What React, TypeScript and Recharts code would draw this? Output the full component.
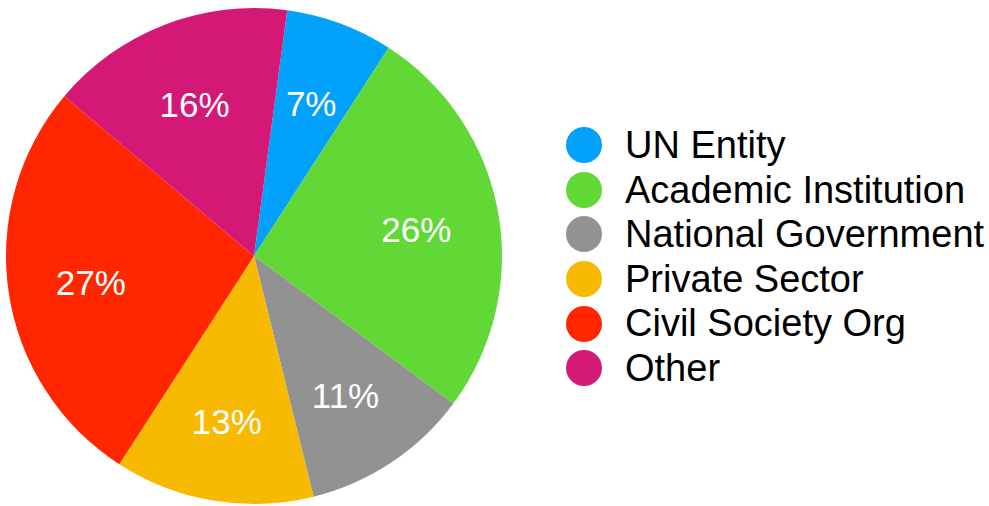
import { Cell, Legend, Pie, PieChart } from "recharts";

const categories = [
  "UN Entity",
  "Academic Institution",
  "National Government",
  "Private Sector",
  "Civil Society Org",
  "Other",
];
const shares = [7, 26, 11, 13, 27, 16];
const colors = ["#02a2fc", "#61d836", "#929292", "#f8ba00", "#ff2600", "#d31876"];

const data = categories.map((name, i) => ({ name, value: shares[i] }));

const RAD = Math.PI / 180;

function renderLabel(props: any) {
  const { cx, cy, midAngle, outerRadius, value } = props;
  const r = outerRadius * 0.665;
  const x = cx + r * Math.cos(-midAngle * RAD);
  const y = cy + r * Math.sin(-midAngle * RAD) + 2.5;
  return (
    <text
      x={x}
      y={y}
      fill="#fff"
      textAnchor="middle"
      dominantBaseline="central"
      fontSize={35}
      fontFamily="'Liberation Sans', Arial, sans-serif"
    >
      {`${value}%`}
    </text>
  );
}

function LegendList() {
  return (
    <div style={{ fontFamily: "'Liberation Sans', Arial, sans-serif" }}>
      {categories.map((name, i) => (
        <div
          key={name}
          style={{ display: "flex", alignItems: "center", height: 44.6 }}
        >
          <span
            style={{
              width: 36,
              height: 36,
              borderRadius: "50%",
              background: colors[i],
              marginRight: 23,
              flexShrink: 0,
            }}
          />
          <span style={{ fontSize: 38, color: "#000", lineHeight: "44.6px", whiteSpace: "nowrap" }}>
            {name}
          </span>
        </div>
      ))}
    </div>
  );
}

export default function App() {
  const start = 82.3;
  return (
    <div style={{ position: "absolute", left: 0, top: 0, background: "#fff" }}>
      <PieChart width={989} height={506} margin={{ top: 0, right: 0, bottom: 0, left: 0 }}>
        <Pie
          data={data}
          dataKey="value"
          nameKey="name"
          cx={254}
          cy={256}
          outerRadius={248}
          startAngle={start}
          endAngle={start - 360}
          stroke="none"
          label={renderLabel}
          labelLine={false}
          isAnimationActive={false}
        >
          {data.map((d, i) => (
            <Cell key={d.name} fill={colors[i]} />
          ))}
        </Pie>
        <Legend
          content={<LegendList />}
          layout="vertical"
          wrapperStyle={{ left: 566, top: 123, width: 423 }}
        />
      </PieChart>
    </div>
  );
}
